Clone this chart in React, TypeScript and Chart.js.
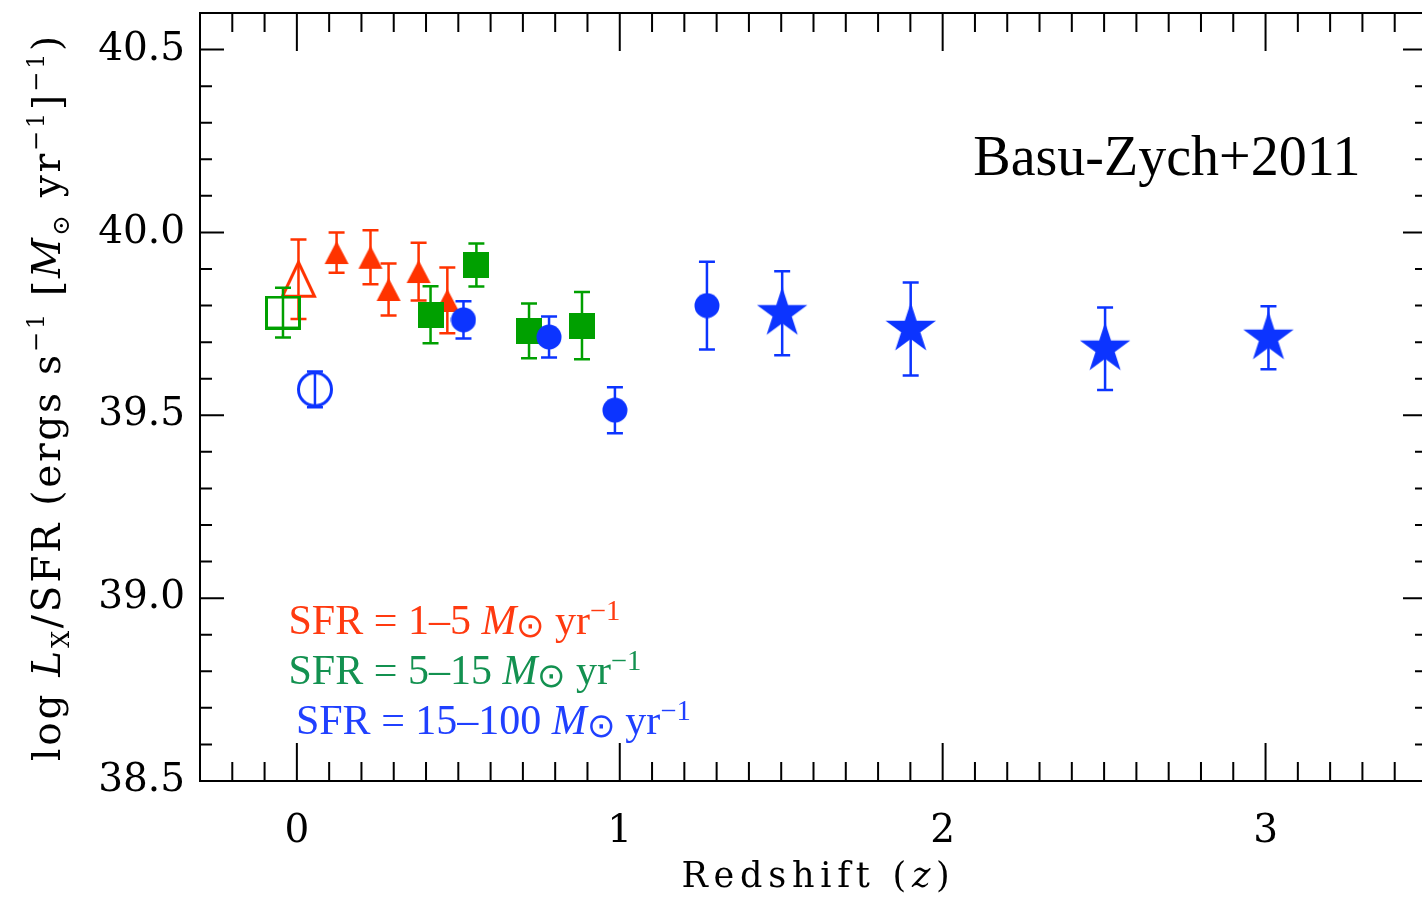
import React, { useEffect, useRef } from 'react';
import { Chart, registerables } from 'chart.js';
Chart.register(...registerables);

// ---------- Data ----------
// SFR = 1–5 Msun/yr (red)
const redZ = [0.005, 0.123, 0.228, 0.284, 0.377, 0.466];
const redV = [39.872, 39.945, 39.932, 39.844, 39.893, 39.814];
const redErr = [0.109, 0.055, 0.074, 0.071, 0.079, 0.090];
const redSym = ['openTriangle', 'triangle', 'triangle', 'triangle', 'triangle', 'triangle'];

// SFR = 5–15 Msun/yr (green)
const greenZ = [-0.043, 0.414, 0.556, 0.719, 0.883];
const greenV = [39.781, 39.775, 39.911, 39.731, 39.745];
const greenErr = [0.068, 0.078, 0.059, 0.075, 0.092];
const greenSym = ['openSquare', 'square', 'square', 'square', 'square'];

// SFR = 15–100 Msun/yr (blue)
const blueZ = [0.056, 0.516, 0.781, 0.985, 1.27, 1.503, 1.901, 2.503, 3.009];
const blueV = [39.571, 39.761, 39.714, 39.514, 39.80, 39.779, 39.736, 39.682, 39.712];
const blueErr = [0.049, 0.051, 0.056, 0.063, 0.12, 0.115, 0.127, 0.113, 0.086];
const blueSym = ['openCircle', 'circle', 'circle', 'circle', 'circle', 'star', 'star', 'star', 'star'];

const xTicks = [0, 1, 2, 3];
const yTicks = [38.5, 39.0, 39.5, 40.0, 40.5];
const xMin = -0.3, xMax = 3.5;
const yMin = 38.5, yMax = 40.6;

const RED = '#ff3300';
const GREEN = '#00a000';
const BLUE = '#0c34ff';

const SERIF = '"DejaVu Serif", serif';
const TIMES = '"Liberation Serif", "Times New Roman", serif';

type Seg = { t: string; it?: boolean; sc?: number; dy?: number };

function mk(w: number, h: number, draw: (c: CanvasRenderingContext2D) => void) {
  const c = document.createElement('canvas');
  c.width = w; c.height = h;
  const ctx = c.getContext('2d')!;
  draw(ctx);
  return c;
}

function buildMarkers(color: string) {
  const m: Record<string, HTMLCanvasElement> = {};
  m.triangle = mk(26, 25, (c) => {
    c.fillStyle = color; c.beginPath(); c.moveTo(1, 24); c.lineTo(13, 1); c.lineTo(25, 24); c.closePath(); c.fill();
  });
  m.openTriangle = mk(37, 39, (c) => {
    c.strokeStyle = color; c.lineWidth = 3; c.lineJoin = 'miter';
    c.beginPath(); c.moveTo(2.5, 36.5); c.lineTo(18.5, 2.5); c.lineTo(34.5, 36.5); c.closePath(); c.stroke();
  });
  m.square = mk(26, 26, (c) => { c.fillStyle = color; c.fillRect(0, 0, 26, 26); });
  m.openSquare = mk(36, 34, (c) => { c.strokeStyle = color; c.lineWidth = 3; c.strokeRect(1.5, 1.5, 33, 31); });
  m.circle = mk(26, 26, (c) => { c.fillStyle = color; c.beginPath(); c.arc(13, 13, 12.5, 0, Math.PI * 2); c.fill(); });
  m.openCircle = mk(38, 38, (c) => { c.strokeStyle = color; c.lineWidth = 3; c.beginPath(); c.arc(19, 19, 16.5, 0, Math.PI * 2); c.stroke(); });
  m.star = mk(56, 56, (c) => {
    c.fillStyle = color; c.beginPath();
    const R = 26.5, r = R * 0.382, cx = 28, cy = 28;
    for (let i = 0; i < 10; i++) {
      const a = -Math.PI / 2 + (i * Math.PI) / 5;
      const rr = i % 2 === 0 ? R : r;
      const px = cx + rr * Math.cos(a), py = cy + rr * Math.sin(a);
      if (i === 0) c.moveTo(px, py); else c.lineTo(px, py);
    }
    c.closePath(); c.fill();
  });
  return m;
}

function drawRich(ctx: CanvasRenderingContext2D, segs: Seg[], family: string, size: number,
  x: number, y: number, align: 'left' | 'center', target?: number) {
  const fontOf = (s: Seg) => `${s.it ? 'italic ' : ''}${(size * (s.sc || 1)).toFixed(1)}px ${family}`;
  const anyCtx = ctx as any;
  anyCtx.letterSpacing = '0px';
  let natural = 0, chars = 0;
  const widths = segs.map((s) => { ctx.font = fontOf(s); const w = ctx.measureText(s.t).width; natural += w; chars += s.t.length; return w; });
  let sp = 0;
  if (target) sp = (target - natural) / chars;
  const total = natural + sp * chars;
  let cx = align === 'center' ? x - total / 2 : x;
  ctx.textAlign = 'left';
  ctx.textBaseline = 'alphabetic';
  segs.forEach((s, i) => {
    ctx.font = fontOf(s);
    anyCtx.letterSpacing = sp + 'px';
    ctx.fillText(s.t, cx, y + (s.dy || 0) * size);
    cx += widths[i] + sp * s.t.length;
  });
  anyCtx.letterSpacing = '0px';
}

const series = [
  { z: redZ, v: redV, e: redErr, sym: redSym, color: RED, order: 3 },
  { z: greenZ, v: greenV, e: greenErr, sym: greenSym, color: GREEN, order: 2 },
  { z: blueZ, v: blueV, e: blueErr, sym: blueSym, color: BLUE, order: 1 },
];

const errorBarPlugin = {
  id: 'errorBars',
  beforeDatasetDraw(chart: any, args: any) {
    const s = series[args.index];
    if (!s) return;
    const { ctx, scales: { x, y } } = chart;
    ctx.save();
    ctx.strokeStyle = s.color;
    ctx.lineWidth = 2.5;
    s.z.forEach((z, j) => {
      const px = x.getPixelForValue(z);
      const y1 = y.getPixelForValue(s.v[j] + s.e[j]);
      const y2 = y.getPixelForValue(s.v[j] - s.e[j]);
      ctx.beginPath();
      ctx.moveTo(px, y1); ctx.lineTo(px, y2);
      ctx.moveTo(px - 8, y1); ctx.lineTo(px + 8, y1);
      ctx.moveTo(px - 8, y2); ctx.lineTo(px + 8, y2);
      ctx.stroke();
    });
    ctx.restore();
  },
};

const framePlugin = {
  id: 'frame',
  afterDatasetsDraw(chart: any) {
    const { ctx, chartArea: { left, right, top, bottom }, scales: { x, y } } = chart;
    ctx.save();
    ctx.strokeStyle = '#000';
    ctx.lineWidth = 2;
    ctx.beginPath();
    for (let k = -2; k <= 34; k++) {
      const px = x.getPixelForValue(k / 10);
      const L = k % 10 === 0 ? 38 : 19;
      ctx.moveTo(px, bottom); ctx.lineTo(px, bottom - L);
      ctx.moveTo(px, top); ctx.lineTo(px, top + L);
    }
    for (let k = 386; k <= 405; k++) {
      const py = y.getPixelForValue(k / 10);
      const L = k % 5 === 0 ? 24 : 12;
      ctx.moveTo(left, py); ctx.lineTo(left + L, py);
      ctx.moveTo(right, py); ctx.lineTo(right - L, py);
    }
    ctx.stroke();
    ctx.strokeRect(left, top, right - left, bottom - top);

    // x title
    ctx.fillStyle = '#000';
    drawRich(ctx, [{ t: 'Redshift (' }, { t: 'z', it: true }, { t: ')' }], SERIF, 35,
      (left + right) / 2 + 5, 887, 'center', 274);

    // y title (rotated)
    ctx.save();
    ctx.translate(60, (top + bottom) / 2);
    ctx.rotate(-Math.PI / 2);
    drawRich(ctx, [
      { t: 'log ' }, { t: 'L', it: true }, { t: 'X', sc: 0.62, dy: 0.22 },
      { t: '/SFR (ergs s' }, { t: '−1', sc: 0.62, dy: -0.42 },
      { t: ' [' }, { t: 'M', it: true }, { t: '⊙', sc: 0.62, dy: 0.22 },
      { t: ' yr' }, { t: '−1', sc: 0.62, dy: -0.42 }, { t: ']' }, { t: '−1', sc: 0.62, dy: -0.42 }, { t: ')' },
    ], SERIF, 39, 0, 0, 'center', 728);
    ctx.restore();

    // annotation
    ctx.fillStyle = '#000';
    drawRich(ctx, [{ t: 'Basu-Zych+2011' }], TIMES, 56, x.getPixelForValue(2.095), y.getPixelForValue(40.158), 'left');

    // legend texts
    const leg = [
      { r: '1–5', c: '#ff3a10', z: -0.026, v: 38.902 },
      { r: '5–15', c: '#139150', z: -0.026, v: 38.765 },
      { r: '15–100', c: '#2040ff', z: -0.003, v: 38.628 },
    ];
    leg.forEach((l) => {
      ctx.fillStyle = l.c;
      drawRich(ctx, [
        { t: `SFR = ${l.r} ` }, { t: 'M', it: true }, { t: '⊙', sc: 0.8, dy: 0.06 },
        { t: ' yr' }, { t: '−1', sc: 0.68, dy: -0.33 },
      ], TIMES, 42, x.getPixelForValue(l.z), y.getPixelForValue(l.v), 'left');
    });
    ctx.restore();
  },
};

export default function App() {
  const ref = useRef<HTMLCanvasElement>(null);
  useEffect(() => {
    const canvas = ref.current!;
    const datasets = series.map((s) => {
      const mk = buildMarkers(s.color);
      return {
        data: s.z.map((z, j) => ({ x: z, y: s.v[j] })),
        pointStyle: s.sym.map((k) => mk[k]) as any,
        pointRadius: 12,
        showLine: false,
        order: s.order,
        borderColor: s.color,
        backgroundColor: s.color,
      };
    });
    const zeroPad = (s: any) => { s.paddingTop = 0; s.paddingBottom = 0; s.paddingLeft = 0; s.paddingRight = 0; };
    const chart = new Chart(canvas, {
      type: 'scatter',
      data: { datasets },
      plugins: [errorBarPlugin, framePlugin],
      options: {
        animation: false,
        responsive: false,
        devicePixelRatio: 1,
        layout: { padding: { left: 0, top: 13, right: 10, bottom: 0 } },
        plugins: { legend: { display: false }, tooltip: { enabled: false } },
        scales: {
          x: {
            type: 'linear', position: 'bottom', min: xMin, max: xMax,
            grid: { display: false, drawTicks: false, tickLength: 0 },
            border: { display: false },
            ticks: { color: '#000', font: { family: SERIF, size: 39 }, padding: 27, maxRotation: 0, callback: (v: any) => String(v) },
            afterBuildTicks: (s: any) => { s.ticks = xTicks.map((v) => ({ value: v })); },
            afterFit: (s: any) => { s.height = 120; zeroPad(s); },
          },
          y: {
            type: 'linear', position: 'left', min: yMin, max: yMax,
            grid: { display: false, drawTicks: false, tickLength: 0 },
            border: { display: false },
            ticks: { color: '#000', font: { family: SERIF, size: 39 }, padding: 15, callback: (v: any) => Number(v).toFixed(1) },
            afterBuildTicks: (s: any) => { s.ticks = yTicks.map((v) => ({ value: v })); },
            afterFit: (s: any) => { s.width = 200; zeroPad(s); },
          },
        },
      } as any,
    });
    return () => chart.destroy();
  }, []);
  return (
    <div style={{ position: 'fixed', left: 0, top: 0, width: 1422, height: 901, overflow: 'hidden', background: '#fff' }}>
      <canvas ref={ref} width={1440} height={901} style={{ display: 'block', width: 1440, height: 901 }} />
    </div>
  );
}
